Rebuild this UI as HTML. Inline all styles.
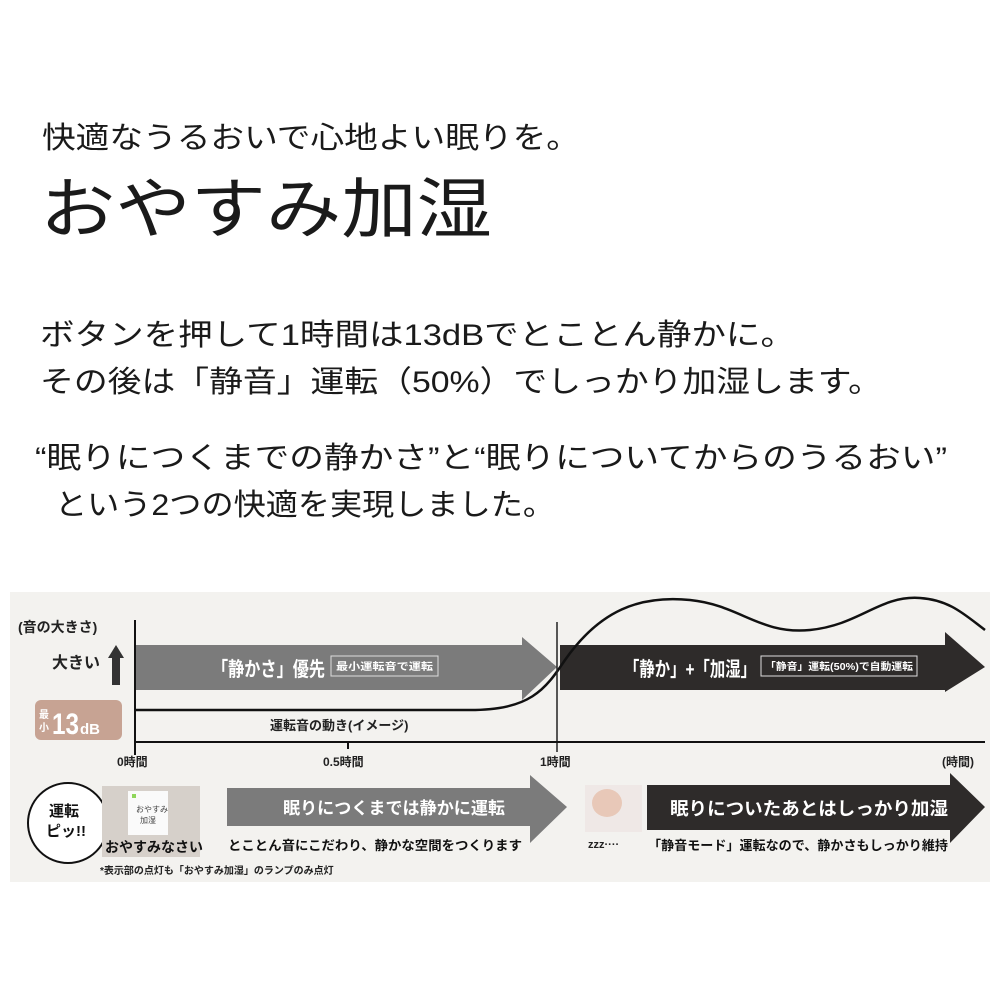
<!DOCTYPE html>
<html><head><meta charset="utf-8"><style>
html,body{margin:0;padding:0;background:#fff;}
svg{display:block;font-family:"Liberation Sans","Noto Sans CJK JP",sans-serif;}
</style></head><body>
<svg width="1000" height="1000" viewBox="0 0 1000 1000" xmlns="http://www.w3.org/2000/svg">
<rect width="1000" height="1000" fill="#fff"/>
<g fill="#1a1a1a">
<text x="42" y="148" font-size="30" textLength="538" lengthAdjust="spacingAndGlyphs">快適なうるおいで心地よい眠りを。</text>
<text x="40" y="232" font-size="66" textLength="452" lengthAdjust="spacingAndGlyphs">おやすみ加湿</text>
<text x="40" y="345" font-size="30" textLength="755" lengthAdjust="spacingAndGlyphs">ボタンを押して1時間は13dBでとことん静かに。</text>
<text x="40" y="392" font-size="30" textLength="842" lengthAdjust="spacingAndGlyphs">その後は「静音」運転（50%）でしっかり加湿します。</text>
<text x="35" y="468" font-size="30" textLength="912" lengthAdjust="spacingAndGlyphs">“眠りにつくまでの静かさ”と“眠りについてからのうるおい”</text>
<text x="55" y="515" font-size="30" textLength="500" lengthAdjust="spacingAndGlyphs">という2つの快適を実現しました。</text>
</g>
<rect x="10" y="592" width="980" height="290" fill="#f3f2ef"/>
<text x="18" y="632" font-size="14" fill="#222" font-weight="bold">(音の大きさ)</text>
<text x="52" y="668" font-size="16" fill="#222" font-weight="bold">大きい</text>
<polygon points="116,645 124,658 120,658 120,685 112,685 112,658 108,658" fill="#333"/>
<rect x="35" y="700" width="87" height="40" rx="6" fill="#c7a393"/>
<text x="39" y="718" font-size="10" fill="#fff" font-weight="bold">最</text>
<text x="39" y="731" font-size="10" fill="#fff" font-weight="bold">小</text>
<text x="52" y="734" font-size="30" fill="#fff" font-weight="bold" textLength="27" lengthAdjust="spacingAndGlyphs">13</text>
<text x="80" y="734" font-size="15" fill="#fff" font-weight="bold">dB</text>
<polygon points="135,645 522,645 522,637 557,667 522,700 522,690 135,690" fill="#7b7b7b"/>
<text x="212" y="676" font-size="20" fill="#fff" font-weight="bold" textLength="113" lengthAdjust="spacingAndGlyphs">「静かさ」優先</text>
<rect x="331" y="656" width="107" height="20" fill="none" stroke="#ddd" stroke-width="1"/>
<text x="336" y="670" font-size="10" fill="#fff" font-weight="bold" textLength="97" lengthAdjust="spacingAndGlyphs">最小運転音で運転</text>
<polygon points="560,645 945,645 945,632 985,667 945,692 945,690 560,690" fill="#2e2b2a"/>
<text x="624" y="676" font-size="20" fill="#fff" font-weight="bold" textLength="132" lengthAdjust="spacingAndGlyphs">「静か」+「加湿」</text>
<rect x="761" y="656" width="156" height="20" fill="none" stroke="#ddd" stroke-width="1"/>
<text x="765" y="670" font-size="10" fill="#fff" font-weight="bold" textLength="148" lengthAdjust="spacingAndGlyphs">「静音」運転(50%)で自動運転</text>
<path d="M135,710 L470,710 C530,710 545,690 565,660 C600,610 640,595 690,600 C740,605 760,635 810,630 C860,625 880,595 920,598 C950,600 965,615 985,630" fill="none" stroke="#111" stroke-width="2.5"/>
<line x1="135" y1="620" x2="135" y2="755" stroke="#111" stroke-width="2"/>
<line x1="557" y1="622" x2="557" y2="752" stroke="#222" stroke-width="1.5"/>
<line x1="135" y1="742" x2="985" y2="742" stroke="#111" stroke-width="2"/>
<line x1="348" y1="742" x2="348" y2="749" stroke="#111" stroke-width="2"/>
<text x="270" y="730" font-size="13" fill="#222" font-weight="bold">運転音の動き(イメージ)</text>
<text x="117" y="766" font-size="12" fill="#222" font-weight="bold">0時間</text>
<text x="323" y="766" font-size="12" fill="#222" font-weight="bold">0.5時間</text>
<text x="540" y="766" font-size="12" fill="#222" font-weight="bold">1時間</text>
<text x="942" y="766" font-size="12" fill="#222" font-weight="bold">(時間)</text>
<circle cx="68" cy="823" r="40" fill="#fff" stroke="#111" stroke-width="2"/>
<text x="49" y="816" font-size="15" fill="#111" font-weight="bold">運転</text>
<text x="46" y="836" font-size="15" fill="#111" font-weight="bold">ピッ!!</text>
<rect x="102" y="786" width="98" height="71" fill="#d6d0ca"/>
<rect x="128" y="791" width="40" height="44" fill="#fafafa"/>
<rect x="132" y="794" width="4" height="4" fill="#8fd65a"/>
<text x="136" y="812" font-size="8" fill="#444">おやすみ</text>
<text x="140" y="823" font-size="8" fill="#444">加湿</text>
<text x="105" y="852" font-size="14" fill="#111" font-weight="bold">おやすみなさい</text>
<polygon points="227,788 530,788 530,775 567,807 530,843 530,826 227,826" fill="#7b7b7b"/>
<text x="283" y="814" font-size="17" fill="#fff" font-weight="bold" textLength="222" lengthAdjust="spacingAndGlyphs">眠りにつくまでは静かに運転</text>
<text x="228" y="850" font-size="13" fill="#111" font-weight="bold" textLength="294" lengthAdjust="spacingAndGlyphs">とことん音にこだわり、静かな空間をつくります</text>
<rect x="585" y="785" width="57" height="47" fill="#efe8e6"/>
<ellipse cx="607" cy="803" rx="15" ry="14" fill="#e8c8b8"/>
<text x="588" y="848" font-size="11" fill="#222" font-weight="bold">zzz····</text>
<polygon points="647,785 950,785 950,773 985,807 950,843 950,830 647,830" fill="#2e2b2a"/>
<text x="670" y="815" font-size="18" fill="#fff" font-weight="bold" textLength="278" lengthAdjust="spacingAndGlyphs">眠りについたあとはしっかり加湿</text>
<text x="648" y="850" font-size="13" fill="#111" font-weight="bold" textLength="300" lengthAdjust="spacingAndGlyphs">「静音モード」運転なので、静かさもしっかり維持</text>
<text x="100" y="874" font-size="10" fill="#222" font-weight="bold">*表示部の点灯も「おやすみ加湿」のランプのみ点灯</text>
</svg>
</body></html>
